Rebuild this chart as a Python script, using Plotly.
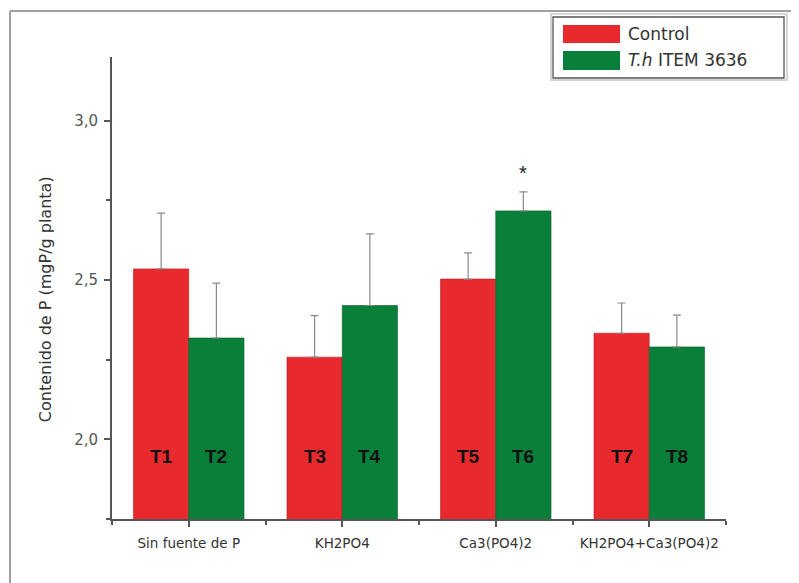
import plotly.graph_objects as go

categories = ["Sin fuente de P", "KH2PO4", "Ca3(PO4)2", "KH2PO4+Ca3(PO4)2"]
control_vals = [2.535, 2.258, 2.503, 2.333]
control_err = [0.175, 0.130, 0.082, 0.095]
th_vals = [2.318, 2.420, 2.717, 2.290]
th_err = [0.172, 0.225, 0.060, 0.100]
control_labels = ["T1", "T3", "T5", "T7"]
th_labels = ["T2", "T4", "T6", "T8"]
series_names = ["Control", "T.h ITEM 3636"]
y_ticks = [2.0, 2.5, 3.0]
y_ticktext = ["2,0", "2,5", "3,0"]

RED = "#E8292E"
GREEN = "#0A7F3A"
x_idx = list(range(len(categories)))
BARGAP = 0.28
half = (1 - BARGAP) / 4  # offset of each bar centre from category centre

# page body has an 8px margin, plot area on screen: x 112..726, y 57..519
BODY = 8
PL, PR, PT, PB = 112, 726, 57, 519
FONT = "DejaVu Sans, Liberation Sans, Arial"

fig = go.Figure()
fig.add_trace(go.Bar(
    x=x_idx, y=control_vals, name=series_names[0], marker_color=RED,
    marker_line=dict(color="#b51e22", width=0.6),
    error_y=dict(type="data", array=control_err, arrayminus=[0] * 4,
                 symmetric=False, color="#8a8a8a", thickness=1.2, width=4),
    showlegend=False))
fig.add_trace(go.Bar(
    x=x_idx, y=th_vals, name=series_names[1], marker_color=GREEN,
    marker_line=dict(color="#06602a", width=0.6),
    error_y=dict(type="data", array=th_err, arrayminus=[0] * 4,
                 symmetric=False, color="#8a8a8a", thickness=1.2, width=4),
    showlegend=False))


def px(xp):
    return (xp - PL) / (PR - PL)


def py(yp):
    return (PB - yp) / (PB - PT)


tfont = dict(family="Liberation Sans, Arial", size=19, color="#111")
annotations = []
for i in x_idx:
    annotations.append(dict(x=i - half, y=1.945, xref="x", yref="y", text="<b>%s</b>" % control_labels[i],
                            showarrow=False, font=tfont))
    annotations.append(dict(x=i + half, y=1.945, xref="x", yref="y", text="<b>%s</b>" % th_labels[i],
                            showarrow=False, font=tfont))
# significance star on T6
annotations.append(dict(x=2 + half, y=2.835, xref="x", yref="y", text="*", showarrow=False,
                        font=dict(family="Liberation Sans, Arial", size=20, color="#222")))
# y axis title
annotations.append(dict(x=px(45), y=2.44, xref="paper", yref="y", xanchor="center", yanchor="middle",
                        text="Contenido de P (mgP/g planta)",
                        textangle=-90, showarrow=False, font=dict(family=FONT, size=16, color="#333")))

# legend drawn manually
shapes = [
    dict(type="rect", xref="paper", yref="paper", x0=px(551), x1=px(787), y0=py(80), y1=py(14),
         line=dict(color="#c8c8c8", width=1.5), fillcolor="rgba(0,0,0,0)"),
    dict(type="rect", xref="paper", yref="paper", x0=px(553), x1=px(784), y0=py(78), y1=py(17),
         line=dict(color="#555", width=1.3), fillcolor="white"),
    dict(type="rect", xref="paper", yref="paper", x0=px(563), x1=px(620), y0=py(43), y1=py(25),
         line=dict(width=0), fillcolor=RED),
    dict(type="rect", xref="paper", yref="paper", x0=px(563), x1=px(620), y0=py(70), y1=py(51),
         line=dict(width=0), fillcolor=GREEN),
    # outer frame (left and top edges)
    dict(type="line", xref="paper", yref="paper", x0=px(10), x1=px(10), y0=py(11), y1=py(600),
         line=dict(color="#a0a0a0", width=2)),
    dict(type="line", xref="paper", yref="paper", x0=px(10), x1=px(820), y0=py(11), y1=py(11),
         line=dict(color="#a0a0a0", width=2)),
]
annotations.append(dict(x=px(626), y=py(34), xref="paper", yref="paper", xanchor="left", yanchor="middle",
                        text=series_names[0], showarrow=False,
                        font=dict(family=FONT, size=17, color="#333")))
annotations.append(dict(x=px(626), y=py(60), xref="paper", yref="paper", xanchor="left", yanchor="middle",
                        text="<i>T.h</i> ITEM 3636", showarrow=False,
                        font=dict(family=FONT, size=17, color="#333")))

fig.update_layout(
    width=799, height=583,
    margin=dict(l=PL - BODY, r=799 - (PR - BODY), t=PT - BODY, b=583 - (PB - BODY)),
    paper_bgcolor="white", plot_bgcolor="white",
    barmode="group", bargap=BARGAP, bargroupgap=0,
    annotations=annotations, shapes=shapes,
    font=dict(family=FONT, color="#333"),
)
fig.update_xaxes(
    range=[-0.5, 3.5], tickvals=x_idx, ticktext=categories,
    showline=True, linecolor="#555", linewidth=2, showgrid=False, zeroline=False,
    ticks="outside", ticklen=6, tickcolor="#555", tickwidth=1.5,
    tickfont=dict(family=FONT, size=13.5, color="#333"), ticklabelstandoff=5,
    minor=dict(tickvals=[-0.5, 0.5, 1.5, 2.5, 3.5], ticks="outside", ticklen=4, tickcolor="#555", tickwidth=1.5),
)
fig.update_yaxes(
    range=[1.75, 3.2], tickvals=y_ticks, ticktext=y_ticktext,
    showline=True, linecolor="#555", linewidth=2, showgrid=False, zeroline=False,
    ticks="outside", ticklen=6, tickcolor="#555", tickwidth=1.5,
    tickfont=dict(family=FONT, size=15, color="#555"), ticklabelstandoff=3,
    minor=dict(tickvals=[1.75, 2.25, 2.75], ticks="outside", ticklen=4, tickcolor="#555", tickwidth=1.5),
)

fig.write_html("out.html")
